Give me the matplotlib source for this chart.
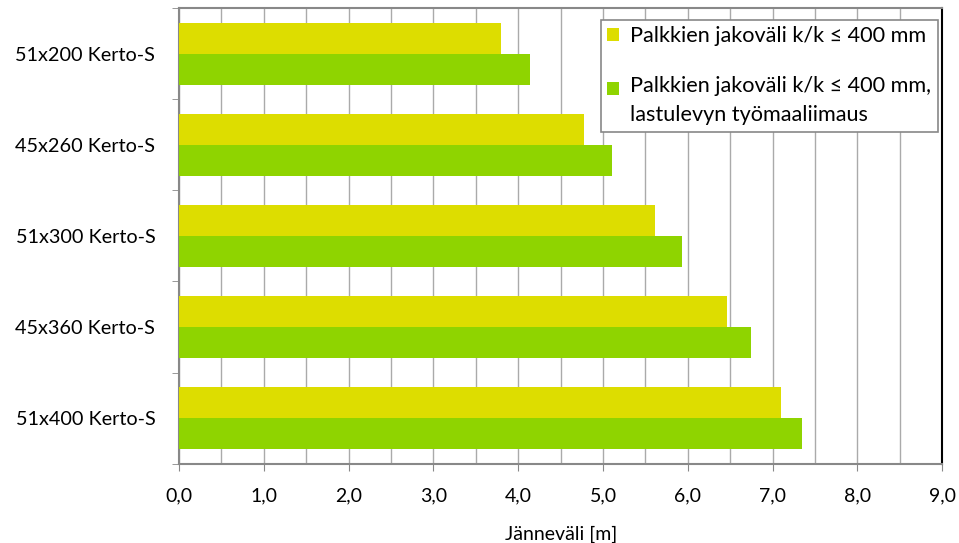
import matplotlib.pyplot as plt
import numpy as np
from matplotlib.patches import Rectangle
from matplotlib.legend_handler import HandlerPatch, update_from_first_child

plt.rcParams['font.family'] = ['Lato', 'DejaVu Sans']

# Data
categories = ["51x200 Kerto-S", "45x260 Kerto-S", "51x300 Kerto-S",
              "45x360 Kerto-S", "51x400 Kerto-S"]
span_basic = [3.80, 4.78, 5.61, 6.46, 7.10]
span_glued = [4.14, 5.10, 5.93, 6.74, 7.34]
labels = ["Palkkien jakoväli k/k ≤ 400 mm",
          "Palkkien jakoväli k/k ≤ 400 mm,\nlastulevyn työmaaliimaus"]
xticks = np.arange(0, 9.5, 1.0)

fig = plt.figure(figsize=(9.59, 5.43), dpi=100)
ax = fig.add_axes([0.1866, 0.146, 0.796, 0.839])

y = np.arange(len(categories))
h = 0.34
b1 = ax.barh(y - h / 2, span_basic, height=h, color="#dddd00", label=labels[0], zorder=3)
b2 = ax.barh(y + h / 2, span_glued, height=h, color="#8fd400", label=labels[1], zorder=3)

ax.set_ylim(len(categories) - 0.5, -0.5)
ax.set_yticks(y)
ax.set_yticklabels(categories, fontsize=14.3)
ax.set_yticks(np.arange(-0.5, len(categories), 1.0), minor=True)
ax.tick_params(axis="y", which="major", length=0, pad=17)
ax.tick_params(axis="y", which="minor", length=5, color="#888888", direction="out")

ax.set_xlim(0, 9)
ax.set_xticks(xticks)
ax.set_xticklabels([f"{v:.1f}".replace(".", ",") for v in xticks], fontsize=14)
ax.set_xticks(np.arange(0, 9.01, 0.5), minor=True)
ax.tick_params(axis="x", which="major", length=5, color="#888888", pad=12)
ax.tick_params(axis="x", which="minor", length=0)
ax.grid(axis="x", which="both", color="#aaaaaa", linewidth=1, zorder=0)

ax.set_xlabel("Jänneväli [m]", fontsize=14, labelpad=15)

for s in ["left", "bottom", "top"]:
    ax.spines[s].set_color("#888888")
    ax.spines[s].set_linewidth(1.5)
ax.spines["right"].set_color("#000000")
ax.spines["right"].set_linewidth(1.5)


# legend square placed at the first text line of a two-line label
def top_square(legend, orig_handle, xdescent, ydescent, width, height, fontsize):
    return Rectangle((-xdescent, -ydescent + 9.3), width, height)


leg = ax.legend(loc="upper right", bbox_to_anchor=(0.994, 0.975), fontsize=15.6,
                handlelength=0.55, handleheight=0.55, handletextpad=0.5,
                labelspacing=1.4, fancybox=False, framealpha=1,
                edgecolor="#888888", borderpad=0.3, borderaxespad=0,
                handler_map={b2: HandlerPatch(patch_func=top_square,
                                              update_func=update_from_first_child)})
leg.get_frame().set_linewidth(1.2)
for t in leg.get_texts():
    t.set_linespacing(1.55)

fig.savefig("out.png", dpi=100)
